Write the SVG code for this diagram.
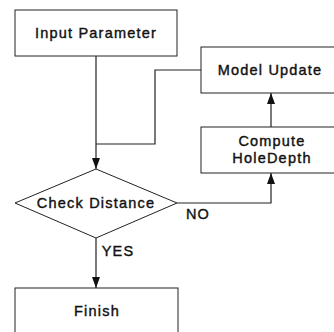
<svg xmlns="http://www.w3.org/2000/svg" width="334" height="332" viewBox="0 0 334 332">
<style>
.box{fill:#fff;stroke:#222;stroke-width:1}
.t{font-family:"Liberation Sans",Arial,sans-serif;font-size:14.5px;letter-spacing:1.2px;fill:#111;stroke:#111;stroke-width:0.4;text-anchor:middle}
.c{fill:none;stroke:#222;stroke-width:1.2}
</style>
<defs>
<marker id="ah" markerWidth="11" markerHeight="8" refX="11" refY="4" orient="auto" markerUnits="userSpaceOnUse" viewBox="0 0 11 8">
<path d="M0,0 L11,4 L0,8 Z" fill="#111"/>
</marker>
</defs>
<rect width="334" height="332" fill="#fff"/>
<g id="connectors">
<path class="c" d="M96,56 V169" marker-end="url(#ah)"/>
<path class="c" d="M201,70 H155 V144 H96"/>
<path class="c" d="M271,127 V93" marker-end="url(#ah)"/>
<path class="c" d="M177,203 H271 V173" marker-end="url(#ah)"/>
<path class="c" d="M96,238 V288" marker-end="url(#ah)"/>
<text class="t" x="198" y="219">NO</text>
<text class="t" x="118" y="256">YES</text>
</g>
<g id="input">
<rect class="box" x="15" y="10" width="162" height="46"/>
<text class="t" x="96" y="38">Input Parameter</text>
</g>
<g id="model">
<rect class="box" x="201" y="47" width="140" height="46"/>
<text class="t" x="270" y="75">Model Update</text>
</g>
<g id="compute">
<rect class="box" x="201" y="127" width="140" height="46"/>
<text class="t" x="272" y="146">Compute</text>
<text class="t" x="272" y="163">HoleDepth</text>
</g>
<g id="check">
<polygon class="box" points="96,169 177,203 96,238 15,203"/>
<text class="t" x="96" y="208">Check Distance</text>
</g>
<g id="finish">
<rect class="box" x="15" y="288" width="163" height="50"/>
<text class="t" x="97" y="316">Finish</text>
</g>
</svg>
